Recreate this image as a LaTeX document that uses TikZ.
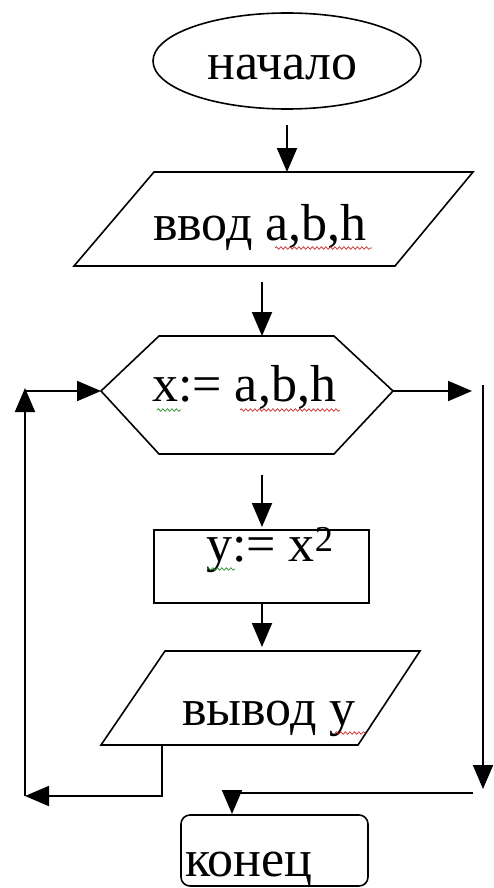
\documentclass[tikz,border=0pt]{standalone}
\usepackage{fontspec}
\setmainfont{Liberation Serif}
\usetikzlibrary{arrows.meta,decorations.pathmorphing,shapes.geometric}
\begin{document}
\begin{tikzpicture}[x=1pt,y=-1pt,
  lbl/.style={anchor=base west, inner sep=0pt, font=\fontsize{52}{52}\selectfont},
  shp/.style={draw, line width=1.6pt},
  conn/.style={line width=1.9pt},
  arr/.style={conn, -{Triangle[length=24pt,width=20pt]}},
  sq/.style={decorate, decoration={snake, amplitude=1.3pt, segment length=4.5pt}, line width=0.7pt}]
\useasboundingbox (0,0) rectangle (493,888);
\definecolor{sqred}{RGB}{205,40,40}
\definecolor{sqgreen}{RGB}{40,140,40}
% shapes
\node[shp, ellipse, minimum width=268pt, minimum height=96pt, inner sep=0pt] (start) at (287,61) {};
\draw[shp] (154,172) coordinate (in1tl) -- (473,172) -- (395,266) -- (74,266) coordinate (in1bl) -- cycle;
\draw[shp] (159,336) -- (334,336) -- (393,391) coordinate (hexR) -- (334,454) -- (159,454) -- (101,391) coordinate (hexL) -- cycle;
\node[shp, rectangle, minimum width=215pt, minimum height=73pt, inner sep=0pt] (proc) at (261.5,566.5) {};
\draw[shp] (165,651) -- (420,651) -- (358,745) -- (101,745) -- cycle;
\node[shp, rectangle, rounded corners=9pt, minimum width=187pt, minimum height=71pt, inner sep=0pt] (stop) at (274.5,850.5) {};
% texts
\node[lbl] (t1) at (207,80) {начало};
\node[lbl] (t2) at (153,240) {ввод a,b,h};
\node[lbl] (t3) at (152,401) {x:= a,b,h};
\node[lbl] (t4) at (206,561) {y:= x\textsuperscript{2}};
\node[lbl] (t5) at (182,725) {вывод y};
\node[lbl] (t6) at (185,876) {конец};
% squiggles
\draw[sq, sqred] (275,248) -- (372,248);
\draw[sq, sqgreen] (157,410) -- (181,410);
\draw[sq, sqred] (240,410) -- (340,410);
\draw[sq, sqgreen] (207,569) -- (235,569);
\draw[sq, sqred] (335,733) -- (365,733);
% connector coordinates
\coordinate (a1s) at (287,125); \coordinate (a1e) at (287,172);
\coordinate (a2s) at (262,282); \coordinate (a2e) at (262,336);
\coordinate (a3s) at (262,475); \coordinate (a3e) at (262,527);
\coordinate (a4s) at (262,603); \coordinate (a4e) at (262,647);
\coordinate (lb1) at (162,745); \coordinate (lb2) at (162,796); \coordinate (lb3) at (25,796);
\coordinate (lv1) at (25,796); \coordinate (lv2) at (25,388);
\coordinate (lh) at (25,391);
\coordinate (rh) at (472,391);
\coordinate (rv1) at (483,385); \coordinate (rv2) at (483,789);
\coordinate (rb1) at (473,793); \coordinate (rb2) at (232,793); \coordinate (rb3) at (232,814);
% connectors
\draw[arr] (a1s) -- (a1e);
\draw[arr] (a2s) -- (a2e);
\draw[arr] (a3s) -- (a3e);
\draw[arr] (a4s) -- (a4e);
\draw[arr] (lb1) -- (lb2) -- (lb3);
\draw[arr] (lv1) -- (lv2);
\draw[arr] (lh) -- (hexL);
\draw[arr] (hexR) -- (rh);
\draw[arr] (rv1) -- (rv2);
\draw[arr] (rb1) -- (rb2) -- (rb3);
\end{tikzpicture}
\end{document}
